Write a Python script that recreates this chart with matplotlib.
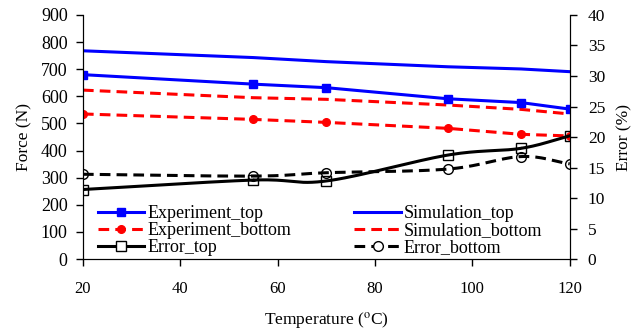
import numpy as np
import matplotlib
matplotlib.use("Agg")
import matplotlib.pyplot as plt

plt.rcParams['font.family'] = ['Liberation Serif', 'DejaVu Serif']
plt.rcParams['mathtext.fontset'] = 'stix'

temperature = [20, 55, 70, 95, 110, 120]

experiment_top = [680, 645, 632, 591, 577, 553]
simulation_top = [768, 743, 728, 709, 701, 691]
experiment_bottom = [535, 515, 504, 482, 460, 454]
simulation_bottom = [623, 595, 589, 568, 552, 535]

error_top = [11.4, 12.95, 12.8, 17.05, 18.15, 20.2]
error_bottom = [13.9, 13.6, 14.15, 14.75, 16.8, 15.6]

DASH = (0, (3.5, 2))


def smooth(x, y, n=30):
    # Catmull-Rom style curve through the points, like a spreadsheet "smoothed line"
    x = np.asarray(x, float)
    y = np.asarray(y, float)
    px = np.concatenate([[2 * x[0] - x[1]], x, [2 * x[-1] - x[-2]]])
    py = np.concatenate([[2 * y[0] - y[1]], y, [2 * y[-1] - y[-2]]])
    xs, ys = [], []
    t = np.linspace(0, 1, n)
    for i in range(1, len(px) - 2):
        for p, out in ((px, xs), (py, ys)):
            p0, p1, p2, p3 = p[i - 1], p[i], p[i + 1], p[i + 2]
            out.extend(0.5 * (2 * p1 + (-p0 + p2) * t
                              + (2 * p0 - 5 * p1 + 4 * p2 - p3) * t ** 2
                              + (-p0 + 3 * p1 - 3 * p2 + p3) * t ** 3))
    return xs, ys


fig = plt.figure(figsize=(6.43, 3.33), dpi=100)
ax = fig.add_axes([0.129, 0.222, 0.757, 0.733])
ax2 = ax.twinx()

ax.plot(temperature, experiment_top, color='#0000FF', lw=2.2, marker='s', ms=5.5,
        label='Experiment_top', zorder=3)
ax.plot(temperature, experiment_bottom, color='#FF0000', lw=2.2, ls=DASH,
        marker='o', ms=5.5, label='Experiment_bottom', zorder=3)
ax.plot(temperature, simulation_top, color='#0000FF', lw=2.2, label='Simulation_top')
ax.plot(temperature, simulation_bottom, color='#FF0000', lw=2.2, ls=DASH,
        label='Simulation_bottom')

sx, sy = smooth(temperature, error_top)
ax2.plot(sx, sy, color='black', lw=2.2)
ax2.plot(temperature, error_top, ls='none', marker='s', ms=7, mfc='none',
         mec='black', mew=1)
sx, sy = smooth(temperature, error_bottom)
ax2.plot(sx, sy, color='black', lw=2.2, ls=DASH)
ax2.plot(temperature, error_bottom, ls='none', marker='o', ms=7, mfc='none',
         mec='black', mew=1)

# legend proxies for the smoothed error curves
ax.plot([], [], color='black', lw=2.2, marker='s', ms=7, mfc='white',
        mec='black', mew=1, label='Error_top')
ax.plot([], [], color='black', lw=2.2, ls=DASH, marker='o', ms=7,
        mfc='white', mec='black', mew=1, label='Error_bottom')

handles, labels = ax.get_legend_handles_labels()
order = ['Experiment_top', 'Experiment_bottom', 'Error_top',
         'Simulation_top', 'Simulation_bottom', 'Error_bottom']
hmap = dict(zip(labels, handles))
ax.legend([hmap[k] for k in order], order, ncol=2, frameon=False,
          loc='lower left', bbox_to_anchor=(0.013, -0.025), borderpad=0,
          columnspacing=3.5, handlelength=2.55, handletextpad=0.17,
          labelspacing=0.0, fontsize=13)

ax.set_xlim(20, 120)
ax.set_ylim(0, 900)
ax.set_xticks(range(20, 121, 20))
ax.set_yticks(range(0, 901, 100))
ax2.set_ylim(0, 40)
ax2.set_yticks(range(0, 41, 5))

for a in (ax, ax2):
    a.spines['top'].set_visible(False)
    a.tick_params(direction='out', length=5, width=1)
ax.tick_params(axis='x', pad=11, labelsize=12)
ax.tick_params(axis='y', pad=6, labelsize=13)
ax2.tick_params(axis='y', pad=8, labelsize=12.5)

ax.set_ylabel('Force (N)', fontsize=12.5, labelpad=6)
ax2.set_ylabel('Error (%)', fontsize=12.5, labelpad=8)
ax.set_xlabel(r'Temperature ($^{\mathrm{o}}$C)', fontsize=12.5, labelpad=9)

fig.savefig('out.png', dpi=100)
